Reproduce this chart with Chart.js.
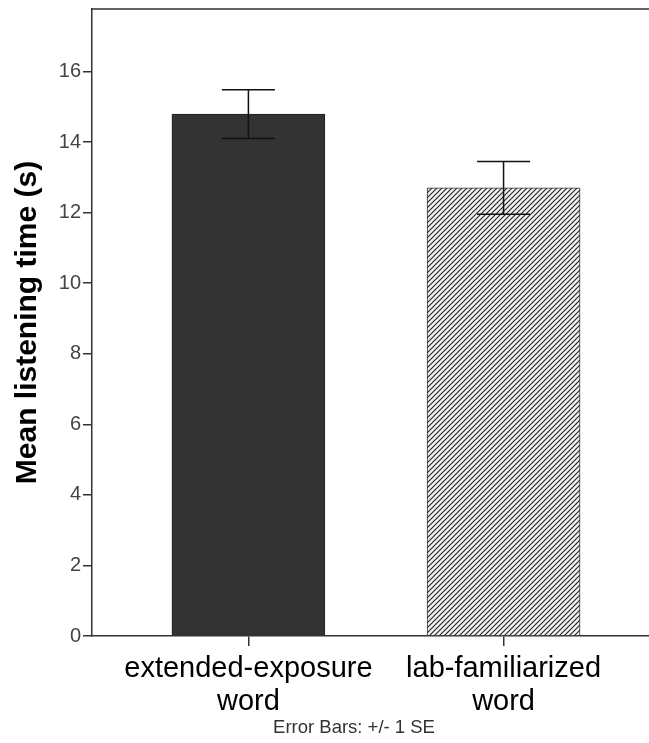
<!DOCTYPE html>
<html>
<head>
<meta charset="utf-8">
<script src="https://cdn.jsdelivr.net/npm/chart.js@4.4.0/dist/chart.umd.min.js"></script>
<style>
  html, body { margin: 0; padding: 0; background: #fff; }
  #wrap { width: 649px; height: 743px; position: relative; }
</style>
</head>
<body>
<div id="wrap"><canvas id="chart"></canvas></div>
<script>
// data
const categories = [['extended-exposure', 'word'], ['lab-familiarized', 'word']];
const means = [14.79, 12.70];
const stdErr = [0.69, 0.745];
const yTicks = [0, 2, 4, 6, 8, 10, 12, 14, 16];

const FONT = '"Liberation Sans", Arial, sans-serif';

// hatch pattern for the second bar
function hatchPattern() {
    const c = document.createElement('canvas');
    c.width = 5; c.height = 5;
    const g = c.getContext('2d');
    g.fillStyle = '#f2f2f2';
    g.fillRect(0, 0, 5, 5);
    g.strokeStyle = '#222';
    g.lineWidth = 1.1;
    g.beginPath();
    g.moveTo(-1, 6); g.lineTo(6, -1);
    g.moveTo(-1, 1); g.lineTo(1, -1);
    g.moveTo(4, 6); g.lineTo(6, 4);
    g.stroke();
    return g.createPattern(c, 'repeat');
}

// top edge of the frame (the right edge is cut off in the original)
const framePlugin = {
    id: 'frame',
    afterDatasetsDraw(chart) {
        const { ctx, chartArea: a } = chart;
        ctx.save();
        ctx.strokeStyle = '#333';
        ctx.lineWidth = 1.5;
        ctx.beginPath();
        ctx.moveTo(a.left, a.top);
        ctx.lineTo(a.right, a.top);
        ctx.stroke();
        ctx.restore();
    }
};

const errorBarPlugin = {
    id: 'errorBars',
    afterDatasetsDraw(chart) {
        const { ctx } = chart;
        const y = chart.scales.y;
        const meta = chart.getDatasetMeta(0);
        ctx.save();
        ctx.strokeStyle = '#111';
        ctx.lineWidth = 1.5;
        meta.data.forEach((bar, i) => {
            const top = y.getPixelForValue(means[i] + stdErr[i]);
            const bot = y.getPixelForValue(means[i] - stdErr[i]);
            const half = 26.5;
            ctx.beginPath();
            ctx.moveTo(bar.x, top); ctx.lineTo(bar.x, bot);
            ctx.moveTo(bar.x - half, top); ctx.lineTo(bar.x + half, top);
            ctx.moveTo(bar.x - half, bot); ctx.lineTo(bar.x + half, bot);
            ctx.stroke();
        });
        ctx.restore();
    }
};

const notePlugin = {
    id: 'note',
    afterDraw(chart) {
        const { ctx } = chart;
        ctx.save();
        ctx.font = '18.5px ' + FONT;
        ctx.fillStyle = '#333';
        ctx.textAlign = 'center';
        ctx.textBaseline = 'middle';
        ctx.fillText('Error Bars: +/- 1 SE', 354, 728);
        ctx.restore();
    }
};

new Chart(document.getElementById('chart'), {
    type: 'bar',
    data: {
        datasets: [{
            data: means.map((m, i) => ({ x: i, y: m })),
            backgroundColor: ['#333333', hatchPattern()],
            borderColor: ['#222', '#333'],
            borderWidth: 1,
            barThickness: 153
        }]
    },
    options: {
        responsive: true,
        maintainAspectRatio: false,
        animation: false,
        layout: { padding: { top: 9, right: 0, left: 0, bottom: 0 } },
        plugins: { legend: { display: false }, tooltip: { enabled: false } },
        scales: {
            x: {
                type: 'linear',
                offset: false,
                min: -0.613,
                max: 1.57,
                afterBuildTicks: (s) => { s.ticks = categories.map((_, i) => ({ value: i })); },
                afterFit: (s) => { s.height = 107; s.paddingLeft = 0; s.paddingRight = 0; },
                border: { color: '#333', width: 1.5 },
                grid: { offset: false, drawOnChartArea: false, tickLength: 10, color: '#333', lineWidth: 1.5 },
                ticks: {
                    callback: (v) => categories[v],
                    color: '#000',
                    padding: 7,
                    maxRotation: 0,
                    autoSkip: false,
                    font: { family: FONT, size: 29, lineHeight: 1.13 }
                }
            },
            y: {
                min: 0,
                max: 17.77,
                afterBuildTicks: (s) => { s.ticks = yTicks.map(v => ({ value: v })); },
                afterFit: (s) => { s.width = 92; s.paddingTop = 0; s.paddingBottom = 0; },
                border: { color: '#333', width: 1.5 },
                grid: { drawOnChartArea: false, tickLength: 9, color: '#333', lineWidth: 1.5 },
                ticks: {
                    color: '#444',
                    padding: 2,
                    font: { family: FONT, size: 20 }
                },
                title: {
                    display: true,
                    text: 'Mean listening time (s)',
                    color: '#000',
                    padding: { top: 10, bottom: 0 },
                    font: { family: FONT, size: 30, weight: 'bold' }
                }
            }
        }
    },
    plugins: [framePlugin, errorBarPlugin, notePlugin]
});
</script>
</body>
</html>
